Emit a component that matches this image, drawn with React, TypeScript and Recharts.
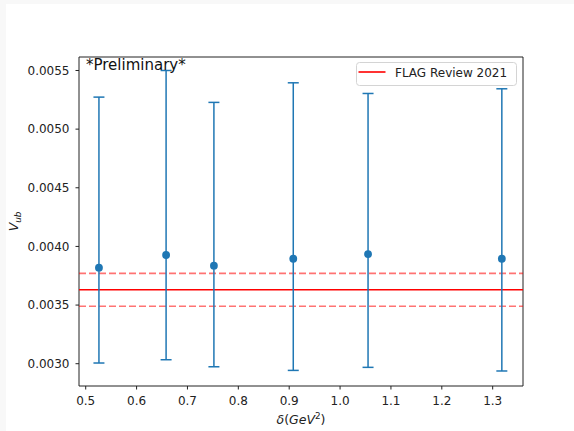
import React from 'react';
import {
  ComposedChart,
  Scatter,
  ErrorBar,
  XAxis,
  YAxis,
  ReferenceLine,
  ReferenceArea,
  Legend,
} from 'recharts';

// ---- data ----
const deltaValues = [0.526, 0.658, 0.752, 0.908, 1.055, 1.318];
const vubCentral = [0.003819, 0.003927, 0.003836, 0.003895, 0.003935, 0.003895];
const vubLower = [0.003006, 0.003034, 0.002974, 0.002943, 0.002969, 0.002938];
const vubUpper = [0.005273, 0.0055, 0.005228, 0.005395, 0.005304, 0.005344];

const flagCentral = 0.00363;
const flagError = 0.00014;
const legendLabels = ['FLAG Review 2021'];

const xTicks = [0.5, 0.6, 0.7, 0.8, 0.9, 1.0, 1.1, 1.2, 1.3];
const yTicks = [0.003, 0.0035, 0.004, 0.0045, 0.005, 0.0055];

const xDomain: [number, number] = [0.4868, 1.3596];
const yDomain: [number, number] = [0.00281, 0.005615];

const points = deltaValues.map((x, i) => ({
  x,
  y: vubCentral[i],
  err: [vubCentral[i] - vubLower[i], vubUpper[i] - vubCentral[i]],
}));

const FONT = 'DejaVu Sans';
const BLUE = '#1f77b4';
const INK = '#222';

const Dot = (props: any) => {
  const { cx, cy } = props;
  if (cx == null || cy == null) return null;
  return <circle cx={cx} cy={cy} r={3.9} fill={BLUE} />;
};

const LegendBox = () => (
  <svg width={162} height={25} style={{ display: 'block', overflow: 'visible' }}>
    <rect x={0.5} y={0.5} width={160} height={23} rx={3} ry={3} fill="rgba(255,255,255,0.8)" stroke="#d4d4d4" strokeWidth={1} />
    <line x1={2.5} x2={29.5} y1={10} y2={10} stroke="#ff0000" strokeWidth={1.6} />
    <text x={39} y={14.5} fontFamily={FONT} fontSize={12} fill={INK}>
      {legendLabels[0]}
    </text>
  </svg>
);

const YLabel = (props: any) => {
  const vb = props.viewBox || {};
  const cy = (vb.y ?? 57) + (vb.height ?? 329) / 2;
  return (
    <text transform={`translate(18, ${cy}) rotate(-90)`} textAnchor="middle" fontFamily={FONT} fill={INK}>
      <tspan fontSize={12.5} fontStyle="italic">V</tspan>
      <tspan fontSize={8.8} fontStyle="italic" dy={2.5}>ub</tspan>
    </text>
  );
};

const XLabel = (props: any) => {
  const vb = props.viewBox || {};
  const cx = (vb.x ?? 79) + (vb.width ?? 444) / 2;
  return (
    <text x={cx} y={424} textAnchor="middle" fontFamily={FONT} fill={INK} fontSize={12.5}>
      <tspan fontStyle="italic">δ</tspan>
      <tspan>(</tspan>
      <tspan fontStyle="italic">GeV</tspan>
      <tspan fontSize={8.8} dy={-5}>2</tspan>
      <tspan dy={5}>)</tspan>
    </text>
  );
};

export default function App() {
  return (
    <div style={{ position: 'absolute', left: 0, top: 0, width: 574, height: 431, background: '#f8f8f8' }}>
      <div style={{ position: 'absolute', left: 6, top: 4, width: 568, height: 427, background: '#ffffff' }} />
      <div style={{ position: 'absolute', left: 0, top: 0 }}>
        <ComposedChart
          width={574}
          height={431}
          margin={{ top: 57, right: 51, bottom: 0, left: 0 }}
          style={{ fontFamily: FONT }}
        >
          <XAxis
            type="number"
            dataKey="x"
            domain={xDomain}
            allowDataOverflow
            ticks={xTicks}
            tickFormatter={(v: number) => v.toFixed(1)}
            height={45}
            tickSize={3.5}
            tickMargin={7}
            axisLine={false}
            tickLine={{ stroke: INK, strokeWidth: 1 }}
            tick={{ fill: INK, fontSize: 12, fontFamily: FONT }}
            label={<XLabel />}
          />
          <YAxis
            type="number"
            dataKey="y"
            domain={yDomain}
            allowDataOverflow
            ticks={yTicks}
            tickFormatter={(v: number) => v.toFixed(4)}
            width={79}
            tickSize={3.5}
            tickMargin={6}
            axisLine={false}
            tickLine={{ stroke: INK, strokeWidth: 1 }}
            tick={{ fill: INK, fontSize: 12, fontFamily: FONT }}
            label={<YLabel />}
          />
          <ReferenceLine y={flagCentral} stroke="#ff0000" strokeWidth={1.6} ifOverflow="hidden" />
          <ReferenceLine
            y={flagCentral + flagError}
            stroke="#ff0000"
            strokeOpacity={0.55}
            strokeWidth={1.6}
            strokeDasharray="7 3"
            ifOverflow="hidden"
          />
          <ReferenceLine
            y={flagCentral - flagError}
            stroke="#ff0000"
            strokeOpacity={0.55}
            strokeWidth={1.6}
            strokeDasharray="7 3"
            ifOverflow="hidden"
          />
          <Scatter data={points} dataKey="y" fill={BLUE} shape={<Dot />} isAnimationActive={false}>
            <ErrorBar dataKey="err" direction="y" width={5.5} stroke={BLUE} strokeWidth={1.5} />
          </Scatter>
          <ReferenceArea
            x1={xDomain[0]}
            x2={xDomain[1]}
            y1={yDomain[0]}
            y2={yDomain[1]}
            fill="none"
            fillOpacity={0}
            stroke={INK}
            strokeWidth={1}
            ifOverflow="visible"
          />
          <Legend
            content={() => <LegendBox />}
            wrapperStyle={{ position: 'absolute', left: 356, top: 62, width: 162, height: 0, overflow: 'visible' }}
          />
        </ComposedChart>
      </div>
      <svg
        width={574}
        height={431}
        style={{ position: 'absolute', left: 0, top: 0, pointerEvents: 'none' }}
      >
        <text x={86} y={70} fontFamily={FONT} fontSize={15} fill="#111">
          *Preliminary*
        </text>
      </svg>
    </div>
  );
}
